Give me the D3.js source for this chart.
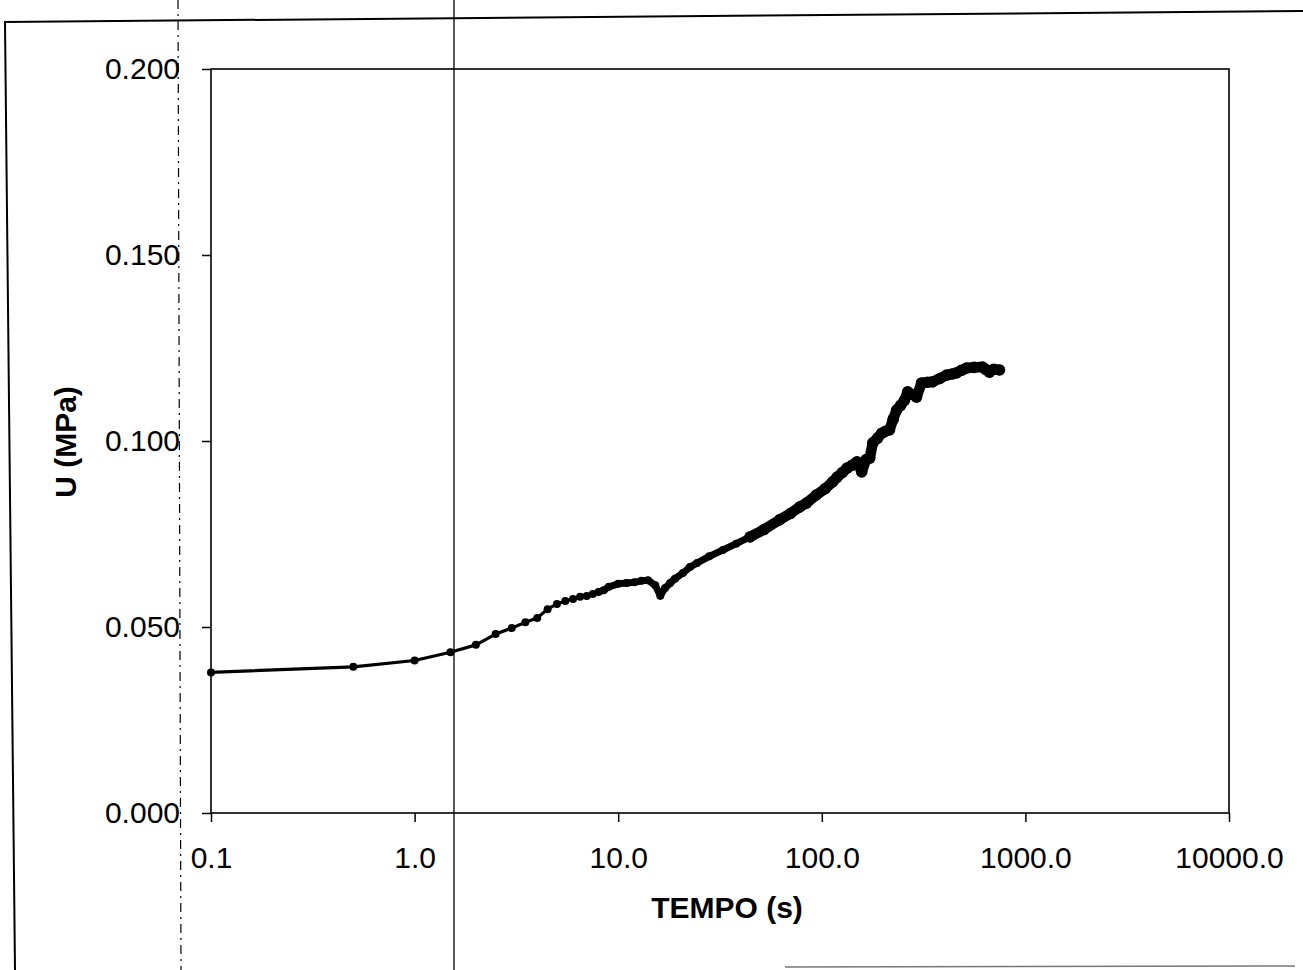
<!DOCTYPE html>
<html>
<head>
<meta charset="utf-8">
<script src="https://cdn.jsdelivr.net/npm/d3@7"></script>
<style>
  html, body { margin: 0; padding: 0; background: #fff; }
  svg { display: block; }
  text { font-family: "Liberation Sans", Arial, sans-serif; fill: #000; }
</style>
</head>
<body>
<svg id="chart" width="1303" height="970"></svg>
<script>
// Measured creep response: time (s) and U (MPa)
const times = [
  0.1, 0.5, 1.0, 1.5, 2.0, 2.5, 3.0, 3.5, 4.0, 4.5, 5.0, 5.5, 6.0, 6.5, 7.0, 7.5,
  8.0, 8.5, 9.0, 10, 11, 12, 13, 14, 15.2, 16.1, 17, 18, 19, 20.8, 22.5, 24.4,
  28, 32.7, 38, 44.4, 52, 62, 70, 78, 84, 94, 104, 113, 119, 126, 133, 141, 149,
  157, 165, 172, 178, 188, 197, 205, 215, 224, 233, 244, 255, 264, 278, 292, 309,
  330, 350, 380, 410, 435, 459, 485, 514, 560, 615, 640, 666, 700, 746
];
const values = [
  0.0378, 0.0393, 0.0410, 0.0432, 0.0452, 0.0481, 0.0497, 0.0513, 0.0524, 0.0548, 0.0562, 0.0570, 0.0575, 0.0581, 0.0583, 0.0589,
  0.0594, 0.0599, 0.0608, 0.0616, 0.0618, 0.0620, 0.0624, 0.0626, 0.0612, 0.0584, 0.0605, 0.0618, 0.0630, 0.0645, 0.0661, 0.0672,
  0.0690, 0.0707, 0.0724, 0.0742, 0.0762, 0.0788, 0.0805, 0.0823, 0.0833, 0.0855, 0.0872, 0.0890, 0.0903, 0.0915, 0.0927, 0.0935, 0.0944,
  0.0917, 0.0950, 0.0954, 0.0995, 0.1008, 0.1021, 0.1026, 0.1030, 0.1058, 0.1083, 0.1096, 0.1110, 0.1132, 0.1125, 0.1118, 0.1156,
  0.1158, 0.1159, 0.1168, 0.1177, 0.1180, 0.1183, 0.1190, 0.1196, 0.1198, 0.1199, 0.1192, 0.1185, 0.1193, 0.1191
];
const xTicks = [0.1, 1, 10, 100, 1000, 10000];
const yTicks = [0.000, 0.050, 0.100, 0.150, 0.200];
const xTitle = "TEMPO (s)";
const yTitle = "U (MPa)";

const svg = d3.select("#chart");
const plotLeft = 211, plotRight = 1229, plotTop = 69, plotBottom = 813;

const x = d3.scaleLog().domain([0.1, 10000]).range([plotLeft, plotRight]);
const y = d3.scaleLinear().domain([0, 0.2]).range([plotBottom, plotTop]);

// Sheet edges and fold lines around the figure
const page = svg.append("g").attr("fill", "none");
page.append("line").attr("x1", 4).attr("y1", 22).attr("x2", 1303).attr("y2", 11)
  .attr("stroke", "#000").attr("stroke-width", 2);
page.append("line").attr("x1", 5).attr("y1", 22).attr("x2", 15).attr("y2", 970)
  .attr("stroke", "#000").attr("stroke-width", 2);
page.append("line").attr("x1", 178).attr("y1", 0).attr("x2", 181).attr("y2", 970)
  .attr("stroke", "#000").attr("stroke-width", 1.2).attr("stroke-dasharray", "9,5,2,5");
page.append("line").attr("x1", 454).attr("y1", 0).attr("x2", 454).attr("y2", 970)
  .attr("stroke", "#000").attr("stroke-width", 1.3);
page.append("line").attr("x1", 785).attr("y1", 967).attr("x2", 1295).attr("y2", 966)
  .attr("stroke", "#777").attr("stroke-width", 1.5);

// Plot frame
svg.append("rect")
  .attr("x", plotLeft).attr("y", plotTop)
  .attr("width", plotRight - plotLeft).attr("height", plotBottom - plotTop)
  .attr("fill", "none").attr("stroke", "#000").attr("stroke-width", 1.6);

// Axes
const xAxis = d3.axisBottom(x)
  .tickValues(xTicks)
  .tickFormat(d3.format(".1f"))
  .tickSize(9).tickSizeOuter(0).tickPadding(25);
const gx = svg.append("g").attr("transform", `translate(0,${plotBottom})`).call(xAxis);
gx.select(".domain").remove();
gx.selectAll(".tick line").attr("stroke", "#000").attr("stroke-width", 1.5);
gx.selectAll(".tick text").attr("font-size", 30).attr("font-family", "Liberation Sans, Arial, sans-serif");

const yAxis = d3.axisLeft(y)
  .tickValues(yTicks)
  .tickFormat(d3.format(".3f"))
  .tickSize(9).tickSizeOuter(0).tickPadding(22);
const gy = svg.append("g").attr("transform", `translate(${plotLeft},0)`).call(yAxis);
gy.select(".domain").remove();
gy.selectAll(".tick line").attr("stroke", "#000").attr("stroke-width", 1.5);
gy.selectAll(".tick text").attr("font-size", 30).attr("font-family", "Liberation Sans, Arial, sans-serif");

// Axis titles
svg.append("text")
  .attr("x", 727).attr("y", 918)
  .attr("text-anchor", "middle")
  .attr("font-size", 30).attr("font-weight", "bold")
  .text(xTitle);
svg.append("text")
  .attr("transform", "translate(76,442) rotate(-90)")
  .attr("text-anchor", "middle")
  .attr("font-size", 30).attr("font-weight", "bold")
  .text(yTitle);

// Series
const data = times.map((t, i) => ({ t, v: values[i] }));
const line = d3.line().x(d => x(d.t)).y(d => y(d.v));
const plot = svg.append("g");

plot.append("path").datum(data)
  .attr("d", line)
  .attr("fill", "none").attr("stroke", "#000")
  .attr("stroke-width", 3.2).attr("stroke-linejoin", "round");

// Densely sampled stretch: overlapping markers merge into a band
plot.append("path").datum(data.filter(d => d.t >= 8))
  .attr("d", line)
  .attr("fill", "none").attr("stroke", "#000")
  .attr("stroke-width", 7).attr("stroke-linejoin", "round").attr("stroke-linecap", "round");
plot.append("path").datum(data.filter(d => d.t >= 40))
  .attr("d", line)
  .attr("fill", "none").attr("stroke", "#000")
  .attr("stroke-width", 10.5).attr("stroke-linejoin", "round").attr("stroke-linecap", "round");

plot.selectAll("circle").data(data).enter().append("circle")
  .attr("cx", d => x(d.t)).attr("cy", d => y(d.v))
  .attr("r", d => d.t >= 40 ? 5.8 : 4)
  .attr("fill", "#000");
</script>
</body>
</html>
